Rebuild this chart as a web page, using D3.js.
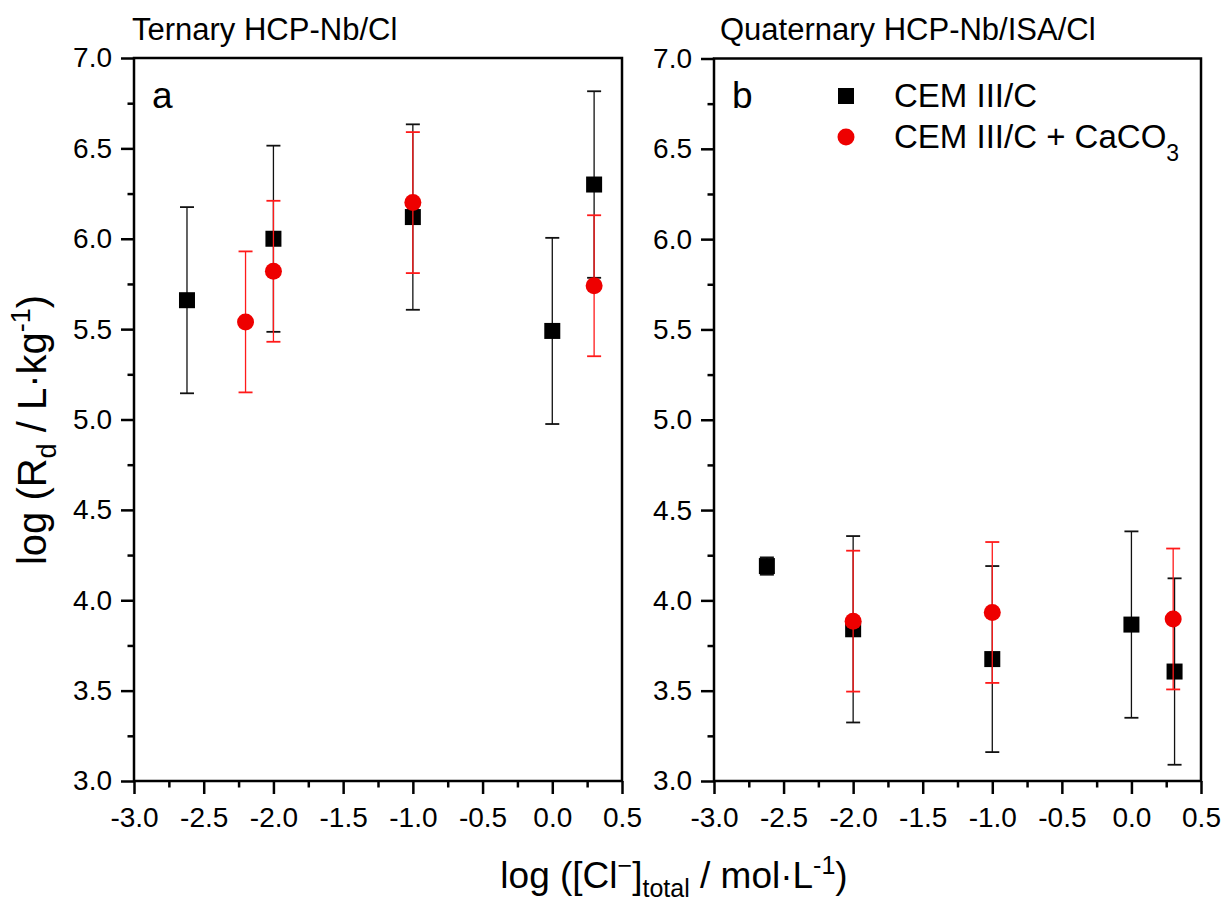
<!DOCTYPE html>
<html>
<head>
<meta charset="utf-8">
<script src="https://cdn.jsdelivr.net/npm/d3@7"></script>
<style>
  body { margin: 0; background: #fff; }
  svg { display: block; font-family: "Liberation Sans", Arial, sans-serif; }
</style>
</head>
<body>
<svg id="chart" width="1224" height="902"></svg>
<script>
// ---- data ----
const panelTitles = ["Ternary HCP-Nb/Cl", "Quaternary HCP-Nb/ISA/Cl"];
const panelLetters = ["a", "b"];
const seriesNames = ["CEM III/C", "CEM III/C + CaCO"];

const xA_black = [-2.62, -2.0, -1.0, 0.0, 0.30];
const yA_black = [5.66, 6.00, 6.12, 5.49, 6.30];
const eA_black = [0.515, 0.515, 0.513, 0.515, 0.516];

const xA_red = [-2.2, -2.0, -1.0, 0.30];
const yA_red = [5.54, 5.82, 6.20, 5.74];
const eA_red = [0.39, 0.39, 0.39, 0.39];

const xB_black = [-2.62, -2.0, -1.0, 0.0, 0.31];
const yB_black = [4.19, 3.84, 3.675, 3.866, 3.606];
const eB_black = [0.048, 0.516, 0.515, 0.516, 0.516];

const xB_red = [-2.0, -1.0, 0.30];
const yB_red = [3.885, 3.933, 3.897];
const eB_red = [0.39, 0.39, 0.39];

const xMajorTicks = [-3.0, -2.5, -2.0, -1.5, -1.0, -0.5, 0.0, 0.5];
const xMinorTicks = [-2.75, -2.25, -1.75, -1.25, -0.75, -0.25, 0.25];
const yMajorTicks = [3.0, 3.5, 4.0, 4.5, 5.0, 5.5, 6.0, 6.5, 7.0];
const yMinorTicks = [3.25, 3.75, 4.25, 4.75, 5.25, 5.75, 6.25, 6.75];

const BLACK = "#000000";
const RED = "#ee0000";
const RED_BAR = "#ff1a1a";

const svg = d3.select("#chart");
const fmt1 = d3.format(".1f");
const fmt = v => fmt1(v).replace("\u2212", "-");

const panels = [
  { x0: 134, x1: 622, y0: 58, y1: 781, titleX: 132,
    black: { x: xA_black, y: yA_black, e: eA_black },
    red: { x: xA_red, y: yA_red, e: eA_red } },
  { x0: 714, x1: 1201, y0: 58.5, y1: 781, titleX: 720,
    black: { x: xB_black, y: yB_black, e: eB_black },
    red: { x: xB_red, y: yB_red, e: eB_red } }
];

panels.forEach((p, i) => {
  const xs = d3.scaleLinear().domain([-3, 0.5]).range([p.x0, p.x1]);
  const ys = d3.scaleLinear().domain([3, 7]).range([p.y1, p.y0]);
  const g = svg.append("g");

  // frame
  g.append("rect")
    .attr("x", p.x0).attr("y", p.y0)
    .attr("width", p.x1 - p.x0).attr("height", p.y1 - p.y0)
    .attr("fill", "none").attr("stroke", "#000").attr("stroke-width", 2.5);

  const xAx = g.append("g").attr("transform", `translate(0,${p.y1})`)
    .call(d3.axisBottom(xs).tickValues(xMajorTicks).tickFormat(fmt).tickSize(13).tickPadding(13));
  const xAxMin = g.append("g").attr("transform", `translate(0,${p.y1})`)
    .call(d3.axisBottom(xs).tickValues(xMinorTicks).tickFormat("").tickSize(6.5));
  const yAx = g.append("g").attr("transform", `translate(${p.x0},0)`)
    .call(d3.axisLeft(ys).tickValues(yMajorTicks).tickFormat(fmt).tickSize(13).tickPadding(9));
  const yAxMin = g.append("g").attr("transform", `translate(${p.x0},0)`)
    .call(d3.axisLeft(ys).tickValues(yMinorTicks).tickFormat("").tickSize(6.5));

  [xAx, xAxMin, yAx, yAxMin].forEach(a => {
    a.select(".domain").remove();
    a.selectAll(".tick line").attr("stroke", "#000").attr("stroke-width", 2.5);
    a.selectAll(".tick text").attr("fill", "#000").style("font-size", "28px")
      .style("font-family", '"Liberation Sans", Arial, sans-serif');
  });

  // title
  svg.append("text").attr("x", p.titleX).attr("y", 40)
    .style("font-size", "31px").attr("fill", "#000").text(panelTitles[i]);
  // panel letter
  svg.append("text").attr("x", p.x0 + 18).attr("y", 108)
    .style("font-size", "37px").attr("fill", "#000").text(panelLetters[i]);

  function drawSeries(s, color, barColor, shape) {
    const data = s.x.map((xv, k) => ({ x: xv, y: s.y[k], e: s.e[k] }));
    const capW = 7;
    const bars = g.append("g");
    data.forEach(d => {
      const cx = xs(d.x);
      bars.append("line").attr("x1", cx).attr("x2", cx)
        .attr("y1", ys(d.y + d.e)).attr("y2", ys(d.y - d.e))
        .attr("stroke", barColor).attr("stroke-width", 1.3);
      [d.y + d.e, d.y - d.e].forEach(v => {
        bars.append("line").attr("x1", cx - capW).attr("x2", cx + capW)
          .attr("y1", ys(v)).attr("y2", ys(v))
          .attr("stroke", barColor).attr("stroke-width", 1.8);
      });
    });
    const marks = g.append("g");
    if (shape === "square") {
      marks.selectAll("rect").data(data).join("rect")
        .attr("x", d => xs(d.x) - 8).attr("y", d => ys(d.y) - 8)
        .attr("width", 16).attr("height", 16).attr("fill", color);
    } else {
      marks.selectAll("circle").data(data).join("circle")
        .attr("cx", d => xs(d.x)).attr("cy", d => ys(d.y))
        .attr("r", 8.5).attr("fill", color);
    }
  }
  drawSeries(p.black, BLACK, "#111", "square");
  drawSeries(p.red, RED, RED_BAR, "circle");
});

// legend (panel b)
svg.append("rect").attr("x", 846 - 8).attr("y", 96 - 8).attr("width", 16).attr("height", 16).attr("fill", BLACK);
svg.append("circle").attr("cx", 846).attr("cy", 137).attr("r", 8.5).attr("fill", RED);
svg.append("text").attr("x", 894).attr("y", 107).style("font-size", "33px").attr("fill", "#000").text(seriesNames[0]);
const lt2 = svg.append("text").attr("x", 894).attr("y", 148).style("font-size", "33px").attr("fill", "#000");
lt2.append("tspan").text(seriesNames[1]);
lt2.append("tspan").attr("dy", 13).style("font-size", "23px").text("3");

// y axis label
const yl = svg.append("text")
  .attr("transform", "translate(46,430) rotate(-90)")
  .attr("text-anchor", "middle").style("font-size", "40px").attr("fill", "#000");
yl.append("tspan").text("log (R");
yl.append("tspan").attr("dy", 10).style("font-size", "27px").text("d");
yl.append("tspan").attr("dy", -10).text(" / L·kg");
yl.append("tspan").attr("dy", -16).style("font-size", "27px").text("-1");
yl.append("tspan").attr("dy", 16).text(")");

// x axis label
const xl = svg.append("text")
  .attr("x", 674).attr("y", 888)
  .attr("text-anchor", "middle").style("font-size", "37px").attr("fill", "#000");
xl.append("tspan").text("log ([Cl");
xl.append("tspan").attr("dy", -14).style("font-size", "25px").text("−");
xl.append("tspan").attr("dy", 14).text("]");
xl.append("tspan").attr("dy", 9).style("font-size", "25px").text("total");
xl.append("tspan").attr("dy", -9).text(" / mol·L");
xl.append("tspan").attr("dy", -14).style("font-size", "25px").text("-1");
xl.append("tspan").attr("dy", 14).text(")");
</script>
</body>
</html>
